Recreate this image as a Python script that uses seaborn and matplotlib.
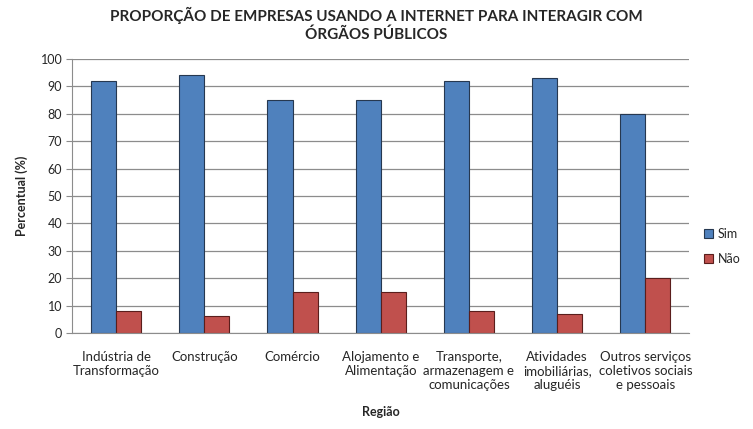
import pandas as pd
import matplotlib
matplotlib.use("Agg")
import matplotlib.pyplot as plt
import seaborn as sns

# categorias e valores
setores = ["Indústria de\nTransformação", "Construção", "Comércio",
           "Alojamento e\nAlimentação", "Transporte,\narmazenagem e\ncomunicações",
           "Atividades\nimobiliárias,\naluguéis", "Outros serviços\ncoletivos sociais\ne pessoais"]
sim = [92, 94, 85, 85, 92, 93, 80]
nao = [8, 6, 15, 15, 8, 7, 20]

df = pd.DataFrame({
    "Setor": setores * 2,
    "Valor": sim + nao,
    "Resposta": ["Sim"] * len(sim) + ["Não"] * len(nao),
})

sns.set_style("white")
plt.rcParams["font.family"] = ["Lato", "DejaVu Sans"]

fig = plt.figure(figsize=(7.53, 4.29), dpi=100)
ax = fig.add_axes([0.0956, 0.224, 0.82, 0.6385])

cores = {"Sim": "#4F81BD", "Não": "#C0504D"}
sns.barplot(data=df, x="Setor", y="Valor", hue="Resposta", palette=cores,
            width=0.57, ax=ax, linewidth=0.8, saturation=1)

# bordas mais escuras, imitando o efeito de sombra
for patch in ax.patches:
    patch.set_edgecolor("#263850" if patch.get_facecolor()[2] > 0.5 else "#5A1E1C")

ax.set_ylim(0, 100)
ax.set_yticks(range(0, 101, 10))
ax.yaxis.grid(True, color="#8C8C8C", linewidth=0.9)
ax.set_axisbelow(True)
for s in ["top", "right"]:
    ax.spines[s].set_visible(False)
ax.spines["left"].set_color("#8C8C8C")
ax.spines["bottom"].set_color("#8C8C8C")
ax.tick_params(axis="y", length=4, color="#8C8C8C", labelsize=9, pad=3)
ax.tick_params(axis="x", length=0, labelsize=9.5, pad=13)
ax.yaxis.set_ticks_position("left")

ax.set_xlabel("Região", fontsize=9, fontweight="bold", labelpad=11)
ax.set_ylabel("Percentual (%)", fontsize=9, fontweight="bold", labelpad=9)

ax.legend(title=None, frameon=False, loc="center left", bbox_to_anchor=(1.005, 0.315),
          fontsize=9, handlelength=0.7, handleheight=0.7, handletextpad=0.4,
          labelspacing=1.05)

fig.suptitle("PROPORÇÃO DE EMPRESAS USANDO A INTERNET PARA INTERAGIR COM\nÓRGÃOS PÚBLICOS",
             fontsize=11, fontweight="bold", y=0.985, linespacing=1.35)

fig.savefig("out.png", dpi=100)
